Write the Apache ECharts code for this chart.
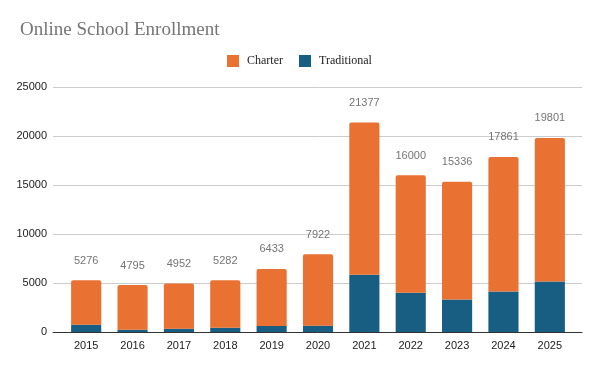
<!DOCTYPE html>
<html>
<head>
<meta charset="utf-8">
<script src="https://cdn.jsdelivr.net/npm/echarts@6/dist/echarts.min.js"></script>
<style>html,body{margin:0;padding:0;background:#fff}#c{width:600px;height:371px}</style>
</head>
<body>
<div id="c"></div>
<script>
const years = ['2015','2016','2017','2018','2019','2020','2021','2022','2023','2024','2025'];
const totals = [5276, 4795, 4952, 5282, 6433, 7922, 21377, 16000, 15336, 17861, 19801];
const traditional = [750, 236, 340, 440, 616, 650, 5850, 4000, 3316, 4140, 5165];
const charter = [4526, 4559, 4612, 4842, 5817, 7272, 15527, 12000, 12020, 13721, 14636];
const yTicks = [0, 5000, 10000, 15000, 20000, 25000];

const yMin = yTicks[0], yMax = yTicks[yTicks.length - 1];
const chart = echarts.init(document.getElementById('c'), null, {renderer: 'canvas'});
chart.setOption({
  animation: false,
  backgroundColor: '#fff',
  title: {
    text: 'Online School Enrollment',
    left: 15, top: 16,
    textStyle: {fontFamily: 'Liberation Serif', fontSize: 19, fontWeight: 'normal', color: '#757575'}
  },
  legend: {
    data: ['Charter', 'Traditional'],
    top: 50, left: 222,
    itemWidth: 12, itemHeight: 12, itemGap: 16,
    icon: 'rect',
    textStyle: {fontFamily: 'Liberation Serif', fontSize: 12, color: '#222', padding: [0, 0, 0, 3]}
  },
  grid: [
    {left: 53, right: 18, top: 87, bottom: 39, containLabel: false},
    {left: 63, right: 27, top: 87, bottom: 39, containLabel: false}
  ],
  xAxis: [
    {
      gridIndex: 0, type: 'value', min: 0, max: 1,
      axisLine: {show: true, onZero: false, lineStyle: {color: '#333', width: 1}},
      axisTick: {show: false}, axisLabel: {show: false}, splitLine: {show: false}
    },
    {
      gridIndex: 1, type: 'category', data: years,
      axisLine: {show: false},
      axisTick: {show: false},
      axisLabel: {fontFamily: 'Liberation Sans', fontSize: 11, color: '#222', margin: 8}
    }
  ],
  yAxis: [
    {
      gridIndex: 0, type: 'value', min: yMin, max: yMax, interval: 5000,
      axisLine: {show: false}, axisTick: {show: false},
      splitLine: {lineStyle: {color: '#ccc'}},
      axisLabel: {fontFamily: 'Liberation Sans', fontSize: 11, color: '#222', margin: 6, formatter: v => String(v)}
    },
    {
      gridIndex: 1, type: 'value', min: yMin, max: yMax, interval: 5000,
      axisLine: {show: false}, axisTick: {show: false},
      splitLine: {show: false}, axisLabel: {show: false}
    }
  ],
  series: [
    {
      name: 'Traditional', type: 'bar', stack: 'a', data: traditional,
      xAxisIndex: 1, yAxisIndex: 1,
      barWidth: '65%',
      itemStyle: {color: '#175e82'}
    },
    {
      name: 'Charter', type: 'bar', stack: 'a', data: charter,
      xAxisIndex: 1, yAxisIndex: 1,
      itemStyle: {color: '#e97132', borderRadius: [2, 2, 0, 0]},
      label: {
        show: true, position: 'top', distance: 14,
        formatter: p => String(totals[p.dataIndex]),
        fontFamily: 'Liberation Sans', fontSize: 11, color: '#757575'
      }
    }
  ]
});
</script>
</body>
</html>
